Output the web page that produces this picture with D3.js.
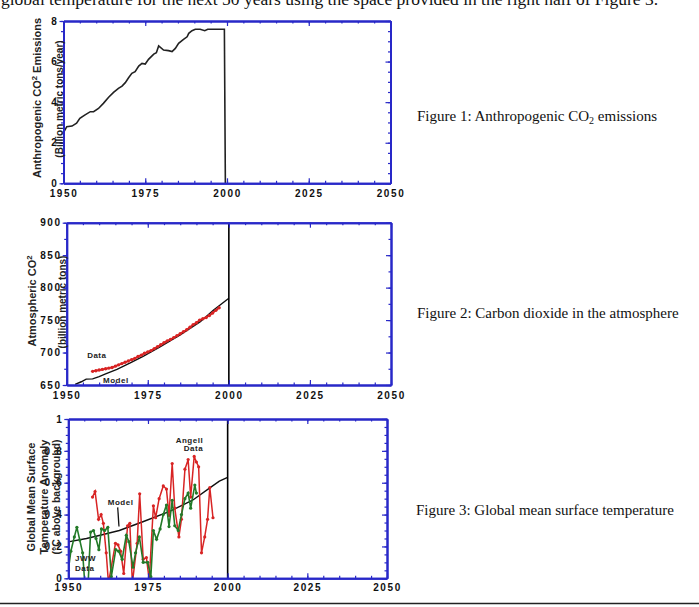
<!DOCTYPE html>
<html lang="en">
<head>
<meta charset="UTF-8">
<title>CO2 and temperature worksheet</title>
<script src="https://d3js.org/d3.v7.min.js"></script>
<style>
    body { margin: 0; background: #fff; }
    .tick text { font-family: "Liberation Sans", Arial, sans-serif; font-weight: bold; font-size: 10px; letter-spacing: 1.6px; fill: #111; }
    .ylab { font-family: "Liberation Sans", Arial, sans-serif; font-weight: bold; fill: #222; }
    .note { font-family: "Liberation Sans", Arial, sans-serif; font-weight: bold; font-size: 8px; letter-spacing: 0.5px; fill: #222; }
    .cap { font-family: "Liberation Serif", "Times New Roman", serif; font-size: 15px; fill: #111; }
</style>
</head>
<body>
<div id="chart"></div>
<script>
    const width = 699;
    const height = 607;
    const blue = "#2828c8";
    const red = "#d82424";
    const green = "#237a28";

    // x axis (years)
    const xTickYears = [1950, 1975, 2000, 2025, 2050];
    const xMinorYears = [1950, 1955, 1960, 1965, 1970, 1975, 1980, 1985, 1990, 1995, 2000,
        2005, 2010, 2015, 2020, 2025, 2030, 2035, 2040, 2045, 2050];

    // Figure 1: anthropogenic CO2 emissions (billion metric tons / year)
    const emisYears = [1950, 1951, 1952.6, 1954, 1955, 1956.6, 1958.2, 1959.2, 1960.7, 1962.2,
        1963.8, 1965.3, 1966.8, 1967.9, 1968.9, 1969.9, 1970.9, 1971.9, 1973, 1974,
        1975, 1976, 1977.6, 1978.4, 1979.1, 1980.6, 1982.1, 1983.2, 1984.2, 1985.2,
        1986.7, 1987.8, 1988.3, 1989.3, 1990.3, 1991.8, 1993.2, 1994.1, 1999.2, 1999.5];
    const emisVals = [2.5, 2.79, 2.82, 2.96, 3.2, 3.37, 3.53, 3.53, 3.69, 3.94,
        4.24, 4.48, 4.68, 4.79, 4.96, 5.2, 5.42, 5.5, 5.78, 5.91,
        5.88, 6.11, 6.37, 6.44, 6.77, 6.57, 6.54, 6.49, 6.65, 6.9,
        7.09, 7.22, 7.39, 7.52, 7.59, 7.59, 7.52, 7.59, 7.59, 0];
    const emisTicks = [0, 2, 4, 6, 8];

    // Figure 2: atmospheric CO2 (billion metric tons)
    const co2ModelYears = [1952.6, 1954.5, 1956, 1958, 1960, 1962, 1965.5, 1969.6, 1973.7,
        1978.9, 1985, 1991.2, 1995.3, 2000];
    const co2ModelVals = [651, 655, 659, 659.5, 663, 667, 674, 684, 694.6,
        709, 727, 747.5, 765.6, 783.6];
    const co2DataYears = [1958, 1959, 1960, 1961, 1962, 1963, 1964, 1965, 1966, 1967,
        1968, 1969, 1970, 1971, 1972, 1973, 1974, 1975, 1976, 1977,
        1978, 1979, 1980, 1981, 1982, 1983, 1984, 1985, 1986, 1987,
        1988, 1989, 1990, 1991, 1992, 1993, 1994, 1995, 1996, 1997];
    const co2DataVals = [671, 672, 673, 674, 675, 676, 677, 679, 681, 683,
        685, 687, 689, 691, 694, 696, 699, 701, 703, 706,
        709, 712, 715, 718, 720, 723, 726, 729, 732, 735,
        739, 743, 746, 750, 752, 754, 757, 761, 765, 769];
    const co2Ticks = [650, 700, 750, 800, 850, 900];

    // Figure 3: global mean surface temperature anomaly (C above background)
    const tModelYears = [1950, 1955.7, 1960, 1966, 1973.4, 1981.8, 1989, 1994.3, 1997.4, 2000];
    const tModelVals = [0.229, 0.25, 0.27, 0.30, 0.355, 0.42, 0.49, 0.566, 0.61, 0.633];
    const jwwYears = [1950, 1950.8, 1951.9, 1952.7, 1953.6, 1954.5, 1955.2, 1956.2, 1957, 1957.9,
        1958.7, 1959.6, 1960.4, 1961.4, 1962.4, 1963.5, 1964.9, 1965.8, 1966.9, 1968.2,
        1969, 1970.3, 1971.1, 1972.3, 1973.5, 1974.9, 1975.9, 1976.7, 1977.7, 1978.8,
        1979.8, 1980.8, 1981.6, 1982.6, 1983.4, 1984.5, 1985.5, 1986.6, 1987.6, 1988.4,
        1989.7, 1990.2];
    const jwwVals = [0.05, 0.17, 0.26, 0.32, 0.24, 0.16, -0.04, -0.04, 0.29, 0.30,
        0.25, 0.18, 0.31, 0.30, 0.32, 0.01, 0.18, 0.17, 0.12, 0.27,
        0.23, 0.07, 0.16, 0.26, 0.10, 0.10, 0.01, 0.30, 0.245, 0.31,
        0.40, 0.46, 0.325, 0.49, 0.33, 0.30, 0.40, 0.50, 0.535, 0.44,
        0.585, 0.535];
    const angellYears = [1957.6, 1958.4, 1959.5, 1960.3, 1961, 1961.9, 1962.6, 1964.8, 1965.6, 1966.4,
        1967.4, 1968.6, 1969.3, 1970.1, 1971.6, 1972.4, 1973.5, 1974.5, 1975.4, 1976.7,
        1977.4, 1978.5, 1979.8, 1980.8, 1981.6, 1982.6, 1983.4, 1984.7, 1985.5, 1986.6,
        1987.6, 1988.4, 1989.5, 1990.2, 1990.9, 1991.8, 1992.8, 1993.7, 1994.4, 1995.4];
    const angellVals = [0.51, 0.545, 0.37, 0.40, 0.345, 0.16, -0.03, 0.22, 0.21, 0.17,
        0.03, 0.33, 0.345, -0.03, 0.22, 0.53, 0.12, 0.13, -0.01, 0.455,
        0.38, 0.50, 0.58, 0.56, 0.395, 0.72, 0.44, 0.26, 0.37, 0.685,
        0.745, 0.51, 0.765, 0.73, 0.70, 0.16, 0.26, 0.37, 0.57, 0.38];
    const tempTicks = [0, 0.2, 0.4, 0.6, 0.8, 1];

    const svg = d3.select("#chart")
        .append("svg")
        .attr("width", width)
        .attr("height", height);

    svg.append("rect").attr("width", width).attr("height", height).attr("fill", "#fff");

    let clipCount = 0;

    function makePanel(box, yDomain, yMajor, yMinorStep, fmt, xPad) {
        const x = d3.scaleLinear().domain([1950, 2050]).range([box.l, box.r]);
        const y = d3.scaleLinear().domain(yDomain).range([box.b, box.t]);
        const yMinor = d3.range(yDomain[0], yDomain[1] + yMinorStep / 2, yMinorStep);
        const id = "clip" + (clipCount++);
        svg.append("clipPath").attr("id", id)
            .append("rect")
            .attr("x", box.l).attr("y", box.t)
            .attr("width", box.r - box.l).attr("height", box.b - box.t);
        const plot = svg.append("g").attr("clip-path", `url(#${id})`);
        return { x, y, plot, box, yMajor, yMinor, fmt, xPad };
    }

    function drawAxes(p) {
        const { x, y, box } = p;
        const g = svg.append("g");
        const add = (axis, tx, ty) => g.append("g")
            .attr("transform", `translate(${tx},${ty})`)
            .call(axis.tickSizeOuter(0));

        add(d3.axisBottom(x).tickValues(xMinorYears).tickSize(-2.5).tickFormat(""), 0, box.b);
        add(d3.axisBottom(x).tickValues(xTickYears).tickSize(-5).tickPadding(p.xPad).tickFormat(d3.format("d")), 0, box.b);
        add(d3.axisTop(x).tickValues(xMinorYears).tickSize(-2.5).tickFormat(""), 0, box.t);
        add(d3.axisTop(x).tickValues(xTickYears).tickSize(-5).tickFormat(""), 0, box.t);
        add(d3.axisLeft(y).tickValues(p.yMinor).tickSize(2.5).tickFormat(""), box.l, 0);
        add(d3.axisLeft(y).tickValues(p.yMajor).tickSize(4).tickPadding(1).tickFormat(p.fmt), box.l, 0);
        add(d3.axisRight(y).tickValues(p.yMinor).tickSize(-2.5).tickFormat(""), box.r, 0);
        add(d3.axisRight(y).tickValues(p.yMajor).tickSize(-5).tickFormat(""), box.r, 0);

        g.selectAll(".domain").attr("stroke", blue).attr("stroke-width", 2);
        g.selectAll(".tick line").attr("stroke", blue).attr("stroke-width", 1.2);
        g.selectAll("g").attr("font-family", null).attr("font-size", null);
    }

    function yTitle(cx, cy, size, parts) {
        const t = svg.append("text")
            .attr("class", "ylab")
            .attr("font-size", size)
            .attr("text-anchor", "middle")
            .attr("transform", `translate(${cx},${cy}) rotate(-90)`);
        parts.forEach(pt => {
            const s = t.append("tspan").text(pt.text);
            if (pt.sup) s.attr("font-size", size * 0.7).attr("dy", -size * 0.4);
            if (pt.after) s.attr("dy", size * 0.4);
        });
    }

    function lineOf(p, xs, ys) {
        return d3.line().x((d, i) => p.x(xs[i])).y((d, i) => p.y(ys[i]))(ys);
    }

    function dots(p, xs, ys, color, r) {
        p.plot.selectAll(null)
            .data(ys)
            .enter()
            .append("circle")
            .attr("cx", (d, i) => p.x(xs[i]))
            .attr("cy", d => p.y(d))
            .attr("r", r)
            .attr("fill", color);
    }

    // header text cut off at top of page
    svg.append("text")
        .attr("x", 1).attr("y", 5)
        .attr("font-family", "'Liberation Serif', 'Times New Roman', serif")
        .attr("font-size", 17.5)
        .attr("fill", "#111")
        .text("global temperature for the next 50 years using the space provided in the right half of Figure 3.");

    // ---- Figure 1 ----
    const p1 = makePanel({ l: 63.5, r: 390.5, t: 21, b: 183.3 }, [0, 8], emisTicks, 0.5, d3.format("d"), 6.5);
    p1.plot.append("path")
        .attr("d", lineOf(p1, emisYears, emisVals))
        .attr("fill", "none")
        .attr("stroke", "#222")
        .attr("stroke-width", 1.6);
    drawAxes(p1);
    yTitle(41, 98, 11, [{ text: "Anthropogenic CO" }, { text: "2", sup: true }, { text: " Emissions", after: true }]);
    yTitle(63, 99, 10, [{ text: "(Billion metric tons/year)" }]);

    // ---- Figure 2 ----
    const p2 = makePanel({ l: 66.7, r: 391, t: 222.7, b: 385 }, [650, 900], co2Ticks, 25, d3.format("d"), 6.5);
    p2.plot.append("path")
        .attr("d", lineOf(p2, co2ModelYears, co2ModelVals))
        .attr("fill", "none")
        .attr("stroke", "#111")
        .attr("stroke-width", 1.4);
    p2.plot.append("path")
        .attr("d", lineOf(p2, co2DataYears, co2DataVals))
        .attr("fill", "none")
        .attr("stroke", red)
        .attr("stroke-width", 1.8);
    dots(p2, co2DataYears, co2DataVals, red, 1.7);
    p2.plot.append("line")
        .attr("x1", p2.x(2000)).attr("x2", p2.x(2000))
        .attr("y1", p2.y(650)).attr("y2", p2.y(900))
        .attr("stroke", "#000").attr("stroke-width", 1.6);
    drawAxes(p2);
    svg.append("text").attr("class", "note").attr("x", p2.x(1956.3)).attr("y", p2.y(691.5)).text("Data");
    svg.append("text").attr("class", "note").attr("x", p2.x(1961.2)).attr("y", p2.y(652.5)).text("Model");
    yTitle(36, 301, 11, [{ text: "Atmospheric CO" }, { text: "2", sup: true }]);
    yTitle(66, 302, 10, [{ text: "(billion metric tons)" }]);

    // ---- Figure 3 ----
    const p3 = makePanel({ l: 68.3, r: 387, t: 419, b: 578.3 }, [0, 1], tempTicks, 0.05,
        d => d === 0 ? "0" : d === 1 ? "1" : d.toFixed(1), 6);
    p3.plot.append("path")
        .attr("d", lineOf(p3, tModelYears, tModelVals))
        .attr("fill", "none")
        .attr("stroke", "#111")
        .attr("stroke-width", 1.4);
    p3.plot.append("path")
        .attr("d", lineOf(p3, angellYears, angellVals))
        .attr("fill", "none")
        .attr("stroke", red)
        .attr("stroke-width", 1.5);
    dots(p3, angellYears, angellVals, red, 1.6);
    p3.plot.append("path")
        .attr("d", lineOf(p3, jwwYears, jwwVals))
        .attr("fill", "none")
        .attr("stroke", green)
        .attr("stroke-width", 1.6);
    dots(p3, jwwYears, jwwVals, green, 1.6);
    p3.plot.append("line")
        .attr("x1", p3.x(2000)).attr("x2", p3.x(2000))
        .attr("y1", p3.y(0)).attr("y2", p3.y(1))
        .attr("stroke", "#000").attr("stroke-width", 1.6);
    drawAxes(p3);
    svg.append("text").attr("class", "note").attr("x", p3.x(1962.4)).attr("y", p3.y(0.46)).text("Model");
    svg.append("line")
        .attr("x1", p3.x(1965.5)).attr("y1", p3.y(0.445))
        .attr("x2", p3.x(1965.9)).attr("y2", p3.y(0.325))
        .attr("stroke", "#111").attr("stroke-width", 1.3);
    svg.append("text").attr("class", "note").attr("x", p3.x(1952.1)).attr("y", p3.y(0.108)).text("JWW");
    svg.append("text").attr("class", "note").attr("x", p3.x(1952.1)).attr("y", p3.y(0.048)).text("Data");
    svg.append("text").attr("class", "note").attr("text-anchor", "end").attr("x", p3.x(1992.3)).attr("y", p3.y(0.852)).text("Angell");
    svg.append("text").attr("class", "note").attr("text-anchor", "end").attr("x", p3.x(1992.3)).attr("y", p3.y(0.8)).text("Data");
    yTitle(34.5, 497, 11, [{ text: "Global Mean Surface" }]);
    yTitle(48, 497, 11, [{ text: "Temperature Anomaly" }]);
    yTitle(60, 497, 10.5, [{ text: "(\u00B0C above background)" }]);

    // ---- captions ----
    const cap1 = svg.append("text").attr("class", "cap").attr("x", 417).attr("y", 121);
    cap1.append("tspan").text("Figure 1: Anthropogenic CO");
    cap1.append("tspan").attr("font-size", 10).attr("dy", 3).text("2");
    cap1.append("tspan").attr("dy", -3).text(" emissions");
    svg.append("text").attr("class", "cap").attr("x", 417).attr("y", 318)
        .text("Figure 2: Carbon dioxide in the atmosphere");
    svg.append("text").attr("class", "cap").attr("x", 416).attr("y", 515)
        .text("Figure 3: Global mean surface temperature");

    // page rule at bottom
    svg.append("line")
        .attr("x1", 0).attr("x2", width)
        .attr("y1", 603.5).attr("y2", 603.5)
        .attr("stroke", "#222").attr("stroke-width", 1.5);
</script>
</body>
</html>
